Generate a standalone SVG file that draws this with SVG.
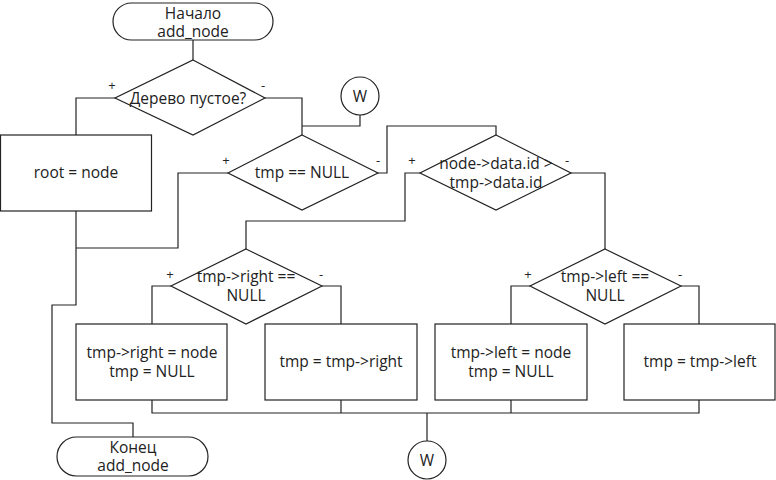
<svg xmlns="http://www.w3.org/2000/svg" width="776" height="480" viewBox="0 0 776 480">
<style>
.s{fill:#fff;stroke:#222;stroke-width:1.2}
.c{fill:none;stroke:#222;stroke-width:1.2}
text{font-family:"Open Sans","Liberation Sans",sans-serif;font-size:15.5px;fill:#222;text-anchor:middle;dominant-baseline:central}
.l{font-size:13px}
</style>
<rect width="776" height="480" fill="#fff"/>
<g id="connectors">
<polyline class="c" points="193,40 193,60"/>
<polyline class="c" points="115,98 76,98 76,135"/>
<polyline class="c" points="265,98 302,98 302,135"/>
<polyline class="c" points="360,115 360,126 302,126"/>
<polyline class="c" points="76,211 76,305 52,305 52,423 133,423 133,437"/>
<polyline class="c" points="228,173 178,173 178,248 76,248"/>
<polyline class="c" points="378,173 387,173 387,126 496,126 496,135"/>
<polyline class="c" points="420,173 405,173 405,221 246,221 246,249"/>
<polyline class="c" points="571,173 605,173 605,249"/>
<polyline class="c" points="171,286 152,286 152,324"/>
<polyline class="c" points="322,286 341,286 341,324"/>
<polyline class="c" points="530,286 511,286 511,324"/>
<polyline class="c" points="681,286 699,286 699,324"/>
<polyline class="c" points="152,400 152,413 699,413 699,400"/>
<polyline class="c" points="341,400 341,413"/>
<polyline class="c" points="511,400 511,413"/>
<polyline class="c" points="427,413 427,441"/>
</g>
<g id="start">
<rect class="s" x="113" y="3" width="160" height="37" rx="18.5"/>
<text x="193" y="13">Начало</text>
<text x="193" y="31">add_node</text>
</g>
<g id="d_empty">
<polygon class="s" points="193,60 265,98 193,135 115,98"/>
<text x="188" y="98">Дерево пустое?</text>
<text class="l" x="112" y="85">+</text>
<text class="l" x="263" y="85">-</text>
</g>
<g id="w_top">
<circle class="s" cx="360" cy="96" r="19"/>
<text x="360" y="96">W</text>
</g>
<g id="root_node">
<rect class="s" x="0.5" y="135" width="151" height="76"/>
<text x="76" y="172">root = node</text>
</g>
<g id="d_tmp_null">
<polygon class="s" points="302,135 378,173 302,210 228,173"/>
<text x="302" y="172">tmp == NULL</text>
<text class="l" x="226" y="160">+</text>
<text class="l" x="378" y="160">-</text>
</g>
<g id="d_compare">
<polygon class="s" points="496,135 571,173 496,210 420,173"/>
<text x="496" y="163">node-&gt;data.id &gt;</text>
<text x="496" y="182">tmp-&gt;data.id</text>
<text class="l" x="412" y="160">+</text>
<text class="l" x="567" y="160">-</text>
</g>
<g id="d_right">
<polygon class="s" points="246,249 322,286 246,324 171,286"/>
<text x="246" y="276">tmp-&gt;right ==</text>
<text x="246" y="295">NULL</text>
<text class="l" x="170" y="274">+</text>
<text class="l" x="321" y="274">-</text>
</g>
<g id="d_left">
<polygon class="s" points="605,249 681,286 605,324 530,286"/>
<text x="605" y="276">tmp-&gt;left ==</text>
<text x="605" y="295">NULL</text>
<text class="l" x="528" y="274">+</text>
<text class="l" x="680" y="274">-</text>
</g>
<g id="set_right">
<rect class="s" x="76" y="324" width="151" height="76"/>
<text x="152" y="352">tmp-&gt;right = node</text>
<text x="152" y="371">tmp = NULL</text>
</g>
<g id="go_right">
<rect class="s" x="265" y="324" width="152" height="76"/>
<text x="341" y="361">tmp = tmp-&gt;right</text>
</g>
<g id="set_left">
<rect class="s" x="435" y="324" width="152" height="76"/>
<text x="511" y="352">tmp-&gt;left = node</text>
<text x="511" y="371">tmp = NULL</text>
</g>
<g id="go_left">
<rect class="s" x="624" y="324" width="151" height="76"/>
<text x="700" y="361">tmp = tmp-&gt;left</text>
</g>
<g id="end">
<rect class="s" x="57" y="437" width="151" height="39" rx="19.5"/>
<text x="133" y="447">Конец</text>
<text x="133" y="465">add_node</text>
</g>
<g id="w_bottom">
<circle class="s" cx="427" cy="460" r="19"/>
<text x="427" y="460">W</text>
</g>
</svg>
